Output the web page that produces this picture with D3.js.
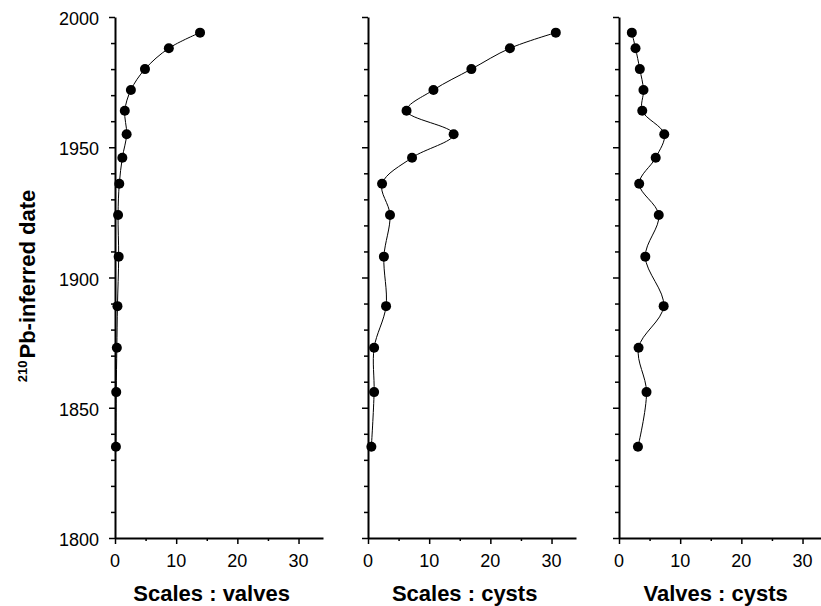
<!DOCTYPE html>
<html>
<head>
<meta charset="utf-8">
<script src="https://cdn.jsdelivr.net/npm/d3@7"></script>
<style>
  body { margin: 0; background: #fff; }
  svg { display: block; font-family: "Liberation Sans", Arial, sans-serif; }
</style>
</head>
<body>
<div id="chart"></div>
<script>
// 210Pb-inferred dates of the sediment samples
const dates = [1994, 1988, 1980, 1972, 1964, 1955, 1946, 1936, 1924, 1908, 1889, 1873, 1856, 1835]

// ratios per sample
const scalesValves = [13.9, 8.8, 4.9, 2.6, 1.6, 1.9, 1.2, 0.7, 0.5, 0.6, 0.4, 0.3, 0.2, 0.15]
const scalesCysts = [30.7, 23.2, 16.9, 10.7, 6.3, 14.0, 7.2, 2.3, 3.6, 2.6, 2.95, 1.0, 1.0, 0.55]
const valvesCysts = [2.1, 2.7, 3.4, 4.0, 3.8, 7.4, 6.0, 3.3, 6.5, 4.3, 7.3, 3.2, 4.5, 3.1]

const panelTitles = ["Scales : valves", "Scales : cysts", "Valves : cysts"]
const panelSeries = [scalesValves, scalesCysts, valvesCysts]

const yTicks = [1800, 1850, 1900, 1950, 2000]
const xTicks = [0, 10, 20, 30]

const width = 821, height = 606
const plotTop = 17, plotBottom = 538
const panelLeft = [115, 368, 619]
const panelWidth = 208

const svg = d3.select("#chart").append("svg")
  .attr("width", width)
  .attr("height", height)

const y = d3.scaleLinear().domain([1800, 2000]).range([plotBottom, plotTop])

panelSeries.forEach((vals, p) => {
  const x0 = panelLeft[p]
  const x = d3.scaleLinear().domain([0, 34]).range([x0, x0 + panelWidth])
  const g = svg.append("g")

  // y axis: minor ticks every 10 yrs, major every 50
  const yAxis = d3.axisLeft(y)
    .tickValues(d3.range(1800, 2001, 10))
    .tickSize(0)
    .tickFormat("")
  const ya = g.append("g").attr("transform", "translate(" + x0 + ",0)").call(yAxis)
  ya.select(".domain").attr("stroke", "#000").attr("stroke-width", 2)
  ya.selectAll(".tick line")
    .attr("x2", d => d % 50 === 0 ? -6 : -4)
    .attr("stroke", "#000").attr("stroke-width", 1.5)

  if (p === 0) {
    g.selectAll(".ylab").data(yTicks).join("text")
      .attr("class", "ylab")
      .attr("x", x0 - 16)
      .attr("y", d => y(d) + 8)
      .attr("text-anchor", "end")
      .style("font-size", "18px")
      .text(d => d)
  }

  // x axis
  const xAxis = d3.axisBottom(x)
    .tickValues(d3.range(0, 31, 5))
    .tickSize(0)
    .tickFormat("")
  const xa = g.append("g").attr("transform", "translate(0," + plotBottom + ")").call(xAxis)
  xa.select(".domain").attr("stroke", "#000").attr("stroke-width", 2)
  xa.selectAll(".tick line")
    .attr("y2", d => d % 10 === 0 ? 6 : 3)
    .attr("stroke", "#000").attr("stroke-width", 1.5)

  g.selectAll(".xlab").data(xTicks).join("text")
    .attr("class", "xlab")
    .attr("x", d => x(d))
    .attr("y", plotBottom + 29)
    .attr("text-anchor", "middle")
    .style("font-size", "18px")
    .text(d => d)

  g.append("text")
    .attr("x", x(15.8))
    .attr("y", 601)
    .attr("text-anchor", "middle")
    .style("font-size", "22px")
    .style("font-weight", "bold")
    .text(panelTitles[p])

  // smoothed profile
  const pts = dates.map((d, i) => [vals[i], d])
  const line = d3.line()
    .x(d => x(d[0]))
    .y(d => y(d[1]))
    .curve(d3.curveCatmullRom)
  g.append("path")
    .datum(pts)
    .attr("d", line)
    .attr("fill", "none")
    .attr("stroke", "#000")
    .attr("stroke-width", 1)

  g.selectAll("circle").data(pts).join("circle")
    .attr("cx", d => x(d[0]))
    .attr("cy", d => y(d[1]))
    .attr("r", 5)
    .attr("fill", "#000")
})

// y axis title with superscript
const yt = svg.append("text")
  .attr("transform", "translate(35,286) rotate(-90)")
  .attr("text-anchor", "middle")
  .style("font-weight", "bold")
yt.append("tspan").style("font-size", "13px").attr("dy", "-8").text("210")
yt.append("tspan").style("font-size", "22px").attr("dy", "8").attr("dx", "2").text("Pb-inferred date")
</script>
</body>
</html>
